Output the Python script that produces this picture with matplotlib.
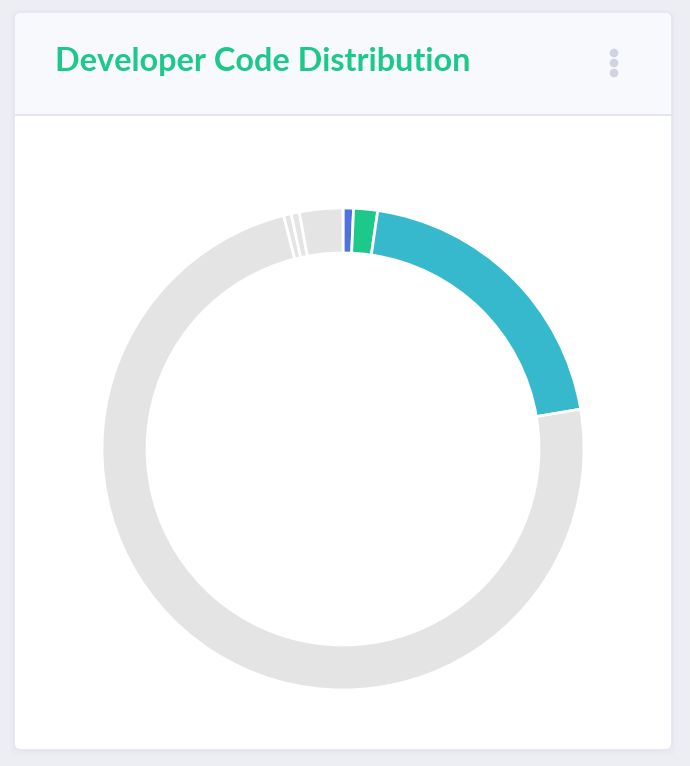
import matplotlib
matplotlib.use("Agg")
import matplotlib.pyplot as plt
from matplotlib.patches import FancyBboxPatch, Circle

# data (share of code, percent), read clockwise from the top
developers = ["Dev A", "Dev B", "Dev C", "Others", "Dev E", "Dev F", "Dev G"]
shares = [0.7, 1.6, 20.0, 73.5, 0.5, 0.55, 2.9]
colors = ["#4e73df", "#1cc88a", "#36b9cc", "#e4e4e4", "#e4e4e4", "#e4e4e4", "#e4e4e4"]

W, H = 690, 766
fig = plt.figure(figsize=(W / 100, H / 100), dpi=100)
fig.patch.set_facecolor("#eceef3")

# background / card in pixel coordinates
bg = fig.add_axes([0, 0, 1, 1])
bg.set_xlim(0, W)
bg.set_ylim(H, 0)
bg.axis("off")

# soft shadow
for i, a in enumerate([0.03, 0.03, 0.03]):
    bg.add_patch(FancyBboxPatch((14 - i * 2, 12 - i * 2 + 2), 658 + i * 4, 738 + i * 4,
                                boxstyle="round,pad=0,rounding_size=8",
                                facecolor="#b7b9cc", edgecolor="none", alpha=a))
bg.add_patch(FancyBboxPatch((14, 12), 658, 738, boxstyle="round,pad=0,rounding_size=7",
                            facecolor="white", edgecolor="#e3e6f0", lw=1.2))
# header
bg.add_patch(FancyBboxPatch((15, 13), 656, 102, boxstyle="round,pad=0,rounding_size=6",
                            facecolor="#f8f9fc", edgecolor="none"))
bg.fill_between([15, 671], 100, 115, color="#f8f9fc", lw=0)
bg.plot([15, 671], [115, 115], color="#e3e6f0", lw=1.5)

bg.text(55, 62, "Developer Code Distribution", fontsize=23.3, fontweight="bold",
        family=["Lato", "DejaVu Sans"], color="#1cc88a", va="center", ha="left")

for y in (53, 63, 73):
    bg.add_patch(Circle((614, y), 4.3, facecolor="#d1d3e2", edgecolor="none"))

# donut
cx, cy, r = 343, 449, 241
ax = fig.add_axes([(cx - r) / W, (H - cy - r) / H, 2 * r / W, 2 * r / H])
ax.pie(shares, colors=colors, startangle=90, counterclock=False, radius=1,
       wedgeprops=dict(width=45 / r, edgecolor="white", linewidth=2))
ax.set_xlim(-1, 1)
ax.set_ylim(-1, 1)
ax.set_aspect("equal")
ax.axis("off")

fig.savefig("out.png", dpi=100, facecolor=fig.get_facecolor())
